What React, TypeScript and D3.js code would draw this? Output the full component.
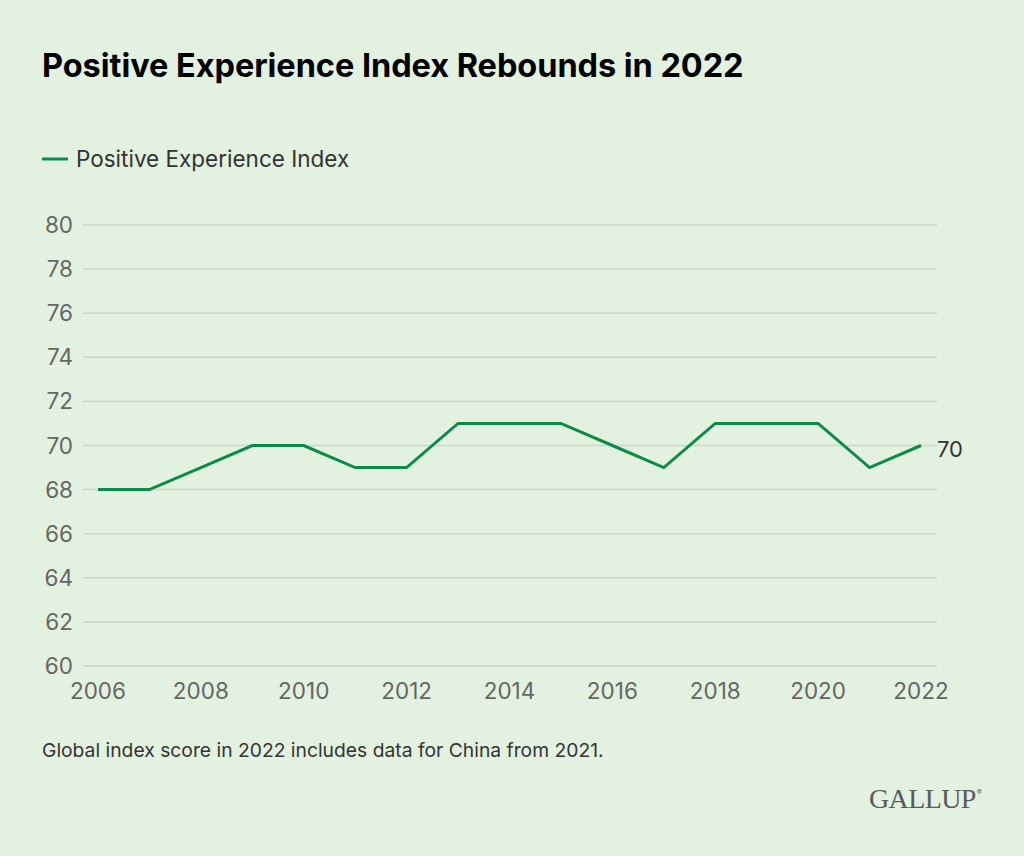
import React from "react";
import * as d3 from "d3";

const years = [2006, 2007, 2008, 2009, 2010, 2011, 2012, 2013, 2014, 2015, 2016, 2017, 2018, 2019, 2020, 2021, 2022];
const values = [68, 68, 69, 70, 70, 69, 69, 71, 71, 71, 70, 69, 71, 71, 71, 69, 70];
const yTicks = [60, 62, 64, 66, 68, 70, 72, 74, 76, 78, 80];
const xTicks = [2006, 2008, 2010, 2012, 2014, 2016, 2018, 2020, 2022];

const W = 1024, H = 856;
const BG = "#e3f1e0";
const GREEN = "#0b8a4c";
const FONT = "Inter, Roboto, 'Noto Sans', sans-serif";

export default function App() {
  const x = d3.scaleLinear().domain([2006, 2022]).range([98, 921]);
  const y = d3.scaleLinear().domain([60, 80]).range([666, 225]);
  const line = d3.line<number>().x((_, i) => x(years[i])).y((d) => y(d));
  const last = values[values.length - 1];
  return (
    <div style={{ position: "absolute", left: 0, top: 0 }}>
      <svg width={W} height={H} style={{ display: "block" }}>
        <rect x={0} y={0} width={W} height={H} fill={BG} />
        <text x={42} y={77} fontFamily={FONT} fontWeight={700} fontSize={32.5} fill="#000" letterSpacing={-0.05}>
          Positive Experience Index Rebounds in 2022
        </text>
        <line x1={42} x2={68} y1={159} y2={159} stroke={GREEN} strokeWidth={3} />
        <text x={76} y={167} fontFamily={FONT} fontSize={22.5} fill="#333">
          Positive Experience Index
        </text>
        {yTicks.map((t) => (
          <g key={t}>
            <line x1={83} x2={937} y1={y(t)} y2={y(t)} stroke="#c9d9c6" strokeWidth={1.5} />
            <text x={73} y={y(t) + 8} textAnchor="end" fontFamily={FONT} fontSize={22.5} fill="#666">
              {t}
            </text>
          </g>
        ))}
        {xTicks.map((t) => (
          <text key={t} x={x(t)} y={699} textAnchor="middle" fontFamily={FONT} fontSize={22.5} fill="#666">
            {t}
          </text>
        ))}
        <path d={line(values) || ""} fill="none" stroke={GREEN} strokeWidth={3} strokeLinejoin="miter" />
        <text x={937} y={y(last) + 11} fontFamily={FONT} fontSize={22} fill="#333">
          {last}
        </text>
        <text x={42} y={757} fontFamily={FONT} fontSize={19.3} fill="#333">
          Global index score in 2022 includes data for China from 2021.
        </text>
        <text x={869} y={808} fontFamily="'Liberation Serif', 'DejaVu Serif', serif" fontSize={28} fill="#5a5a5a" letterSpacing={-0.6}>
          GALLUP
        </text>
        <text x={977} y={795} fontFamily={FONT} fontSize={7} fill="#5a5a5a">®</text>
      </svg>
    </div>
  );
}
